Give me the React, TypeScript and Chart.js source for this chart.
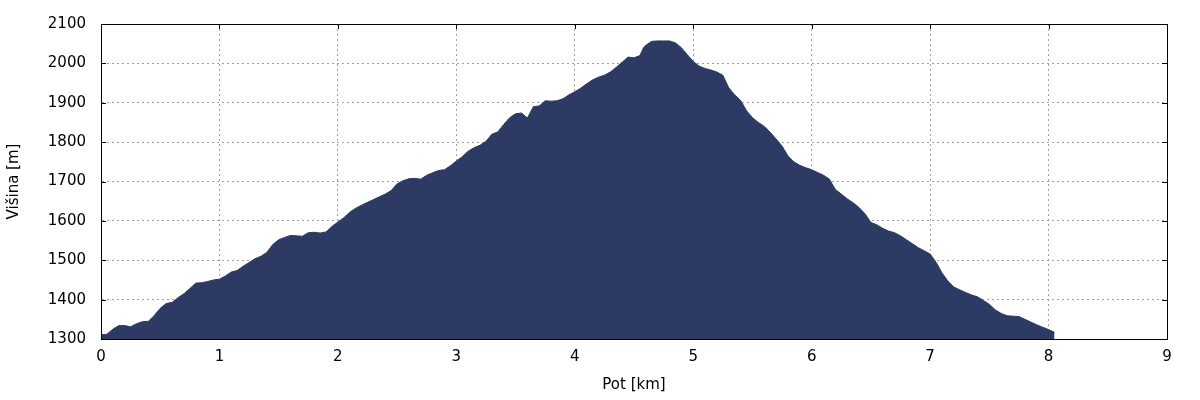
import React, { useEffect, useRef } from "react";
import { Chart, registerables } from "chart.js";

Chart.register(...registerables);

const distanceKm: number[] = [
  0.0, 0.05, 0.1, 0.15, 0.2, 0.25, 0.3, 0.35, 0.4, 0.45, 0.5, 0.55, 0.6, 0.65, 0.7, 0.75, 0.8, 0.85, 0.9, 0.95,
  1.0, 1.05, 1.1, 1.15, 1.2, 1.25, 1.3, 1.35, 1.4, 1.45, 1.5, 1.55, 1.6, 1.65, 1.7, 1.75, 1.8, 1.85, 1.9, 1.95,
  2.0, 2.05, 2.1, 2.15, 2.2, 2.25, 2.3, 2.35, 2.4, 2.45, 2.5, 2.55, 2.6, 2.65, 2.7, 2.75, 2.8, 2.85, 2.9, 2.95,
  3.0, 3.05, 3.1, 3.15, 3.2, 3.25, 3.3, 3.35, 3.4, 3.45, 3.5, 3.55, 3.6, 3.65, 3.7, 3.75, 3.8, 3.85, 3.9, 3.95,
  4.0, 4.05, 4.1, 4.15, 4.2, 4.25, 4.3, 4.35, 4.4, 4.45, 4.5, 4.55, 4.58, 4.6, 4.65, 4.7, 4.75, 4.8, 4.85, 4.9, 4.95,
  5.0, 5.05, 5.1, 5.15, 5.2, 5.25, 5.3, 5.35, 5.4, 5.45, 5.5, 5.55, 5.6, 5.65, 5.7, 5.75, 5.8, 5.85, 5.9, 5.95,
  6.0, 6.05, 6.1, 6.15, 6.2, 6.25, 6.3, 6.35, 6.4, 6.45, 6.5, 6.55, 6.6, 6.65, 6.7, 6.75, 6.8, 6.85, 6.9, 6.95,
  7.0, 7.05, 7.1, 7.15, 7.2, 7.25, 7.3, 7.35, 7.4, 7.45, 7.5, 7.55, 7.6, 7.65, 7.7, 7.75, 7.8, 7.85, 7.9, 7.95,
  8.0, 8.05,
];

const elevationM: number[] = [
  1311, 1312, 1325, 1334, 1334, 1331, 1339, 1344, 1345, 1360, 1378, 1390, 1393, 1405, 1415, 1428, 1442, 1443, 1446, 1450,
  1452, 1460, 1470, 1474, 1485, 1494, 1504, 1510, 1520, 1540, 1552, 1558, 1563, 1562, 1561, 1570, 1571, 1569, 1572, 1586,
  1597, 1608, 1622, 1632, 1640, 1647, 1654, 1661, 1668, 1677, 1694, 1702, 1707, 1708, 1706, 1716, 1722, 1728, 1730, 1740,
  1752, 1763, 1777, 1786, 1792, 1802, 1820, 1826, 1845, 1862, 1872, 1874, 1861, 1890, 1892, 1905, 1904, 1905, 1910, 1920,
  1928, 1937, 1948, 1958, 1965, 1970, 1978, 1990, 2003, 2016, 2014, 2020, 2040, 2046, 2056, 2057, 2057, 2057, 2052, 2040, 2022,
  2005, 1993, 1987, 1983, 1978, 1970, 1938, 1920, 1906, 1880, 1862, 1850, 1840, 1825, 1808, 1790, 1765, 1750, 1741, 1735,
  1730, 1723, 1716, 1706, 1680, 1668, 1656, 1646, 1634, 1618, 1596, 1590, 1581, 1574, 1570, 1562, 1552, 1542, 1532, 1524,
  1516, 1495, 1468, 1447, 1432, 1425, 1418, 1412, 1407, 1398, 1388, 1374, 1365, 1359, 1358, 1357, 1350, 1343, 1336, 1330,
  1324, 1317,
];

const xTicks: number[] = [0, 1, 2, 3, 4, 5, 6, 7, 8, 9];
const yTicks: number[] = [1300, 1400, 1500, 1600, 1700, 1800, 1900, 2000, 2100];

const xTitle = "Pot [km]";
const yTitle = "Višina [m]";

const FONT = "'DejaVu Sans', sans-serif";

const framePlugin = {
  id: "frame",
  afterDraw(chart: any) {
    const { ctx, chartArea, scales } = chart;
    const { left, right, top, bottom } = chartArea;
    ctx.save();
    ctx.setLineDash([]);
    ctx.strokeStyle = "#000";
    ctx.lineWidth = 1;
    ctx.beginPath();
    for (const v of yTicks) {
      const y = Math.round(scales.y.getPixelForValue(v)) + 0.5;
      ctx.moveTo(right, y);
      ctx.lineTo(right - 5, y);
      ctx.moveTo(left, y);
      ctx.lineTo(left + 5, y);
    }
    for (const v of xTicks) {
      const x = Math.round(scales.x.getPixelForValue(v)) + 0.5;
      ctx.moveTo(x, top);
      ctx.lineTo(x, top + 5);
    }
    ctx.stroke();
    ctx.strokeRect(Math.round(left) + 0.5, Math.round(top) + 0.5, Math.round(right - left), Math.round(bottom - top));
    ctx.restore();
  },
};

export default function App() {
  const ref = useRef<HTMLCanvasElement | null>(null);

  useEffect(() => {
    if (!ref.current) return;
    const points = distanceKm.map((x, i) => ({ x, y: elevationM[i] }));
    const chart = new Chart(ref.current, {
      type: "line",
      data: {
        datasets: [
          {
            data: points,
            borderWidth: 1,
            borderColor: "#2c3a64",
            backgroundColor: "#2c3a64",
            fill: "start",
            pointRadius: 0,
            tension: 0,
          },
        ],
      },
      options: {
        animation: false,
        responsive: false,
        devicePixelRatio: 1,
        layout: { padding: { left: 0, top: 22, right: 33, bottom: 0 } },
        plugins: { legend: { display: false }, tooltip: { enabled: false } },
        scales: {
          x: {
            type: "linear",
            min: 0,
            max: 9,
            afterFit: (s: any) => {
              s.height = 61;
            },
            afterBuildTicks: (s: any) => {
              s.ticks = xTicks.map((v) => ({ value: v }));
            },
            ticks: {
              padding: 9,
              color: "#000",
              font: { family: FONT, size: 15, lineHeight: 1.2 },
              callback: (v: any) => String(v),
            },
            grid: {
              color: "#a0a0a0",
              drawTicks: false,
            },
            border: { display: true, color: "#000", dash: [2, 3] },
            title: {
              display: true,
              text: xTitle,
              color: "#000",
              font: { family: FONT, size: 15, lineHeight: 1.2 },
              padding: { top: 0, bottom: 6 },
            },
          },
          y: {
            type: "linear",
            min: 1300,
            max: 2100,
            afterFit: (s: any) => {
              s.width = 101;
            },
            afterBuildTicks: (s: any) => {
              s.ticks = yTicks.map((v) => ({ value: v }));
            },
            ticks: {
              padding: 15,
              color: "#000",
              font: { family: FONT, size: 15, lineHeight: 1.2 },
              callback: (v: any) => String(v),
            },
            grid: {
              color: "#a0a0a0",
              drawTicks: false,
            },
            border: { display: true, color: "#000", dash: [2, 3] },
            title: {
              display: true,
              text: yTitle,
              color: "#000",
              font: { family: FONT, size: 15, lineHeight: 1.2 },
              padding: { top: 5, bottom: 0 },
            },
          },
        },
      },
      plugins: [framePlugin],
    } as any);
    return () => chart.destroy();
  }, []);

  return (
    <div style={{ position: "fixed", left: 0, top: 0, width: 1200, height: 400, background: "#fff" }}>
      <canvas ref={ref} width={1200} height={400} style={{ display: "block" }} />
    </div>
  );
}
